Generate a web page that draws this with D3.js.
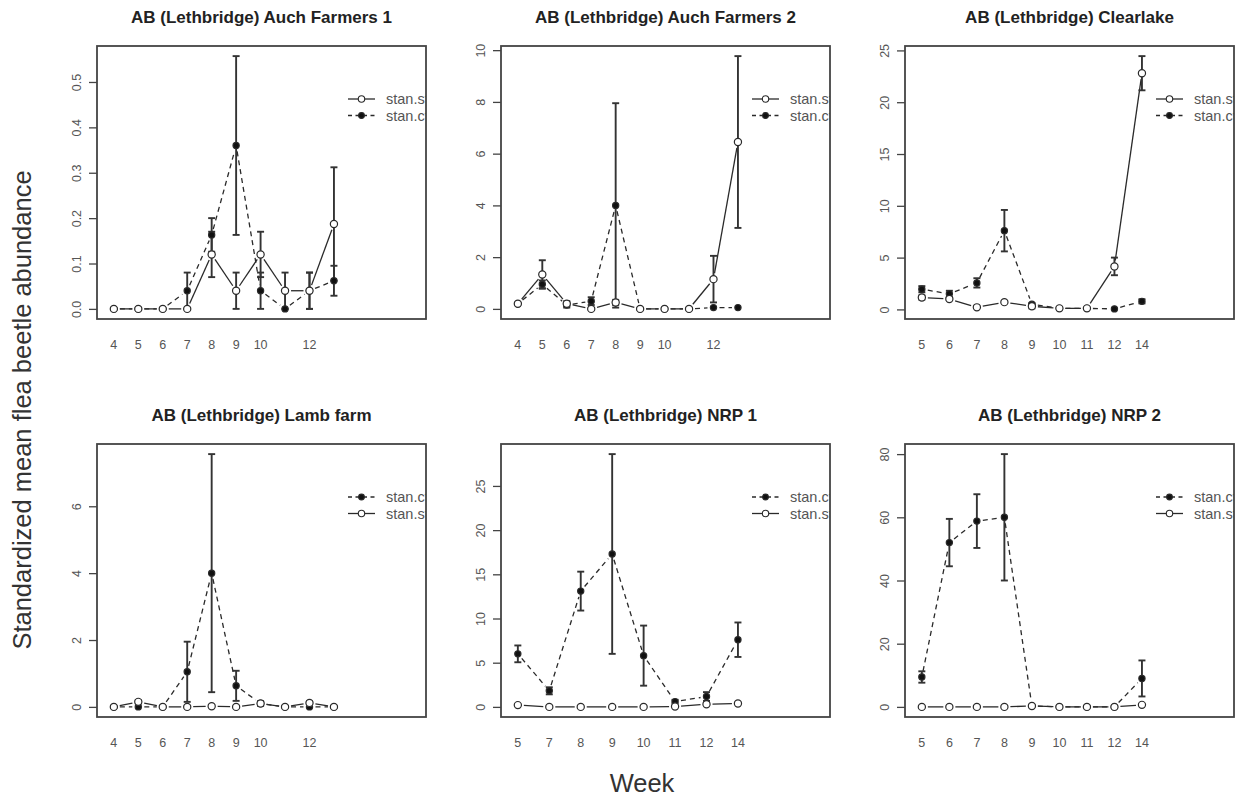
<!DOCTYPE html>
<html><head><meta charset="utf-8">
<script src="https://cdn.jsdelivr.net/npm/d3@7"></script>
<style>body{margin:0;background:#fff}svg{display:block;font-family:"Liberation Sans",Arial,Helvetica,sans-serif}</style>
</head><body><svg id="c" width="1239" height="799"></svg>
<script>
// ---------- data ----------
const titles = ["AB (Lethbridge) Auch Farmers 1","AB (Lethbridge) Auch Farmers 2","AB (Lethbridge) Clearlake",
                "AB (Lethbridge) Lamb farm","AB (Lethbridge) NRP 1","AB (Lethbridge) NRP 2"];
const seriesNames = {st:"stan.st", ct:"stan.ct"};

const p1Weeks = [4,5,6,7,8,9,10,11,12,13];
const p1Labels = ["4","5","6","7","8","9","10","","12",""];
const p1St   = [0,0,0,0,0.12,0.04,0.12,0.04,0.04,0.187];
const p1StSE = [0,0,0,0,0.05,0.04,0.05,0.04,0.04,0.125];
const p1Ct   = [0,0,0,0.04,0.163,0.36,0.04,0,0.04,0.062];
const p1CtSE = [0,0,0,0.04,0.037,0.197,0.04,0,0.04,0.033];
const p1YTicks = [0,0.1,0.2,0.3,0.4,0.5];

const p2Weeks = [4,5,6,7,8,9,10,11,12,13];
const p2Labels = ["4","5","6","7","8","9","10","","12",""];
const p2St   = [0.2,1.33,0.2,0,0.25,0,0,0,1.15,6.45];
const p2StSE = [0,0.55,0.1,0,0.1,0,0,0,0.9,3.32];
const p2Ct   = [0.2,0.95,0.15,0.3,4.0,0,0,0,0.05,0.05];
const p2CtSE = [0,0.15,0.1,0.15,3.95,0,0,0,0,0];
const p2YTicks = [0,2,4,6,8,10];

const p3Weeks = [5,6,7,8,9,10,11,12,14];
const p3Labels = ["5","6","7","8","9","10","11","12","14"];
const p3St   = [1.15,1.0,0.2,0.7,0.3,0.1,0.1,4.15,22.8];
const p3StSE = [0.2,0.1,0,0,0.2,0,0,0.85,1.65];
const p3Ct   = [1.95,1.5,2.56,7.6,0.5,0.1,0.1,0.05,0.78];
const p3CtSE = [0.3,0.3,0.45,2.0,0.1,0,0,0,0.2];
const p3YTicks = [0,5,10,15,20,25];

const p4Weeks = [4,5,6,7,8,9,10,11,12,13];
const p4Labels = ["4","5","6","7","8","9","10","","12",""];
const p4St   = [0,0.15,0,0,0.02,0,0.1,0,0.12,0];
const p4StSE = [0,0.05,0,0,0,0,0.05,0,0.05,0];
const p4Ct   = [0,0,0,1.05,4.0,0.63,0.1,0,0,0];
const p4CtSE = [0,0,0,0.9,3.56,0.45,0.07,0,0,0];
const p4YTicks = [0,2,4,6];

const p5Weeks = [5,7,8,9,10,11,12,14];
const p5Labels = ["5","7","8","9","10","11","12","14"];
const p5St   = [0.2,0,0,0,0,0.05,0.3,0.38];
const p5StSE = [0,0,0,0,0,0,0,0];
const p5Ct   = [6.0,1.82,13.1,17.3,5.8,0.6,1.17,7.6];
const p5CtSE = [0.95,0.4,2.2,11.3,3.4,0.2,0.5,1.95];
const p5YTicks = [0,5,10,15,20,25];

const p6Weeks = [5,6,7,8,9,10,11,12,14];
const p6Labels = ["5","6","7","8","9","10","11","12","14"];
const p6St   = [0,0,0,0,0.3,0,0,0,0.64];
const p6StSE = [0,0,0,0,0,0,0,0,0];
const p6Ct   = [9.46,52.0,58.8,60.0,0.3,0,0,0,9.0];
const p6CtSE = [1.8,7.5,8.5,20.0,0,0,0,0,5.7];
const p6YTicks = [0,20,40,60,80];

const yTitle = "Standardized mean flea beetle abundance";
const xTitle = "Week";

// ---------- assemble ----------
const panels = [
  {weeks:p1Weeks, labels:p1Labels, st:p1St, stSE:p1StSE, ct:p1Ct, ctSE:p1CtSE, yTicks:p1YTicks, fmt:d3.format(".1f"), legend:["st","ct"]},
  {weeks:p2Weeks, labels:p2Labels, st:p2St, stSE:p2StSE, ct:p2Ct, ctSE:p2CtSE, yTicks:p2YTicks, fmt:d3.format("d"), legend:["st","ct"]},
  {weeks:p3Weeks, labels:p3Labels, st:p3St, stSE:p3StSE, ct:p3Ct, ctSE:p3CtSE, yTicks:p3YTicks, fmt:d3.format("d"), legend:["st","ct"]},
  {weeks:p4Weeks, labels:p4Labels, st:p4St, stSE:p4StSE, ct:p4Ct, ctSE:p4CtSE, yTicks:p4YTicks, fmt:d3.format("d"), legend:["ct","st"]},
  {weeks:p5Weeks, labels:p5Labels, st:p5St, stSE:p5StSE, ct:p5Ct, ctSE:p5CtSE, yTicks:p5YTicks, fmt:d3.format("d"), legend:["ct","st"]},
  {weeks:p6Weeks, labels:p6Labels, st:p6St, stSE:p6StSE, ct:p6Ct, ctSE:p6CtSE, yTicks:p6YTicks, fmt:d3.format("d"), legend:["ct","st"]}
];

const svg = d3.select("#c");
const boxW = 329, boxH = 273;
const colX = [97, 501, 905], rowY = [46, 444];
const ink = "#2a2a2a";
const style = {
  st:{dash:null, fill:"#fff", r:3.6},
  ct:{dash:"5,4", fill:"#111", r:3.1}
};
const GAP = 6;

panels.forEach((p, i) => {
  const bx = colX[i % 3], by = rowY[Math.floor(i / 3)];
  const n = p.weeks.length;
  const x = d3.scaleLinear().domain([0, n - 1]).range([bx + 0.0512 * boxW, bx + 0.7202 * boxW]);
  const lows = p.st.map((v, k) => v - p.stSE[k]).concat(p.ct.map((v, k) => v - p.ctSE[k]));
  const highs = p.st.map((v, k) => v + p.stSE[k]).concat(p.ct.map((v, k) => v + p.ctSE[k]));
  const ymin = d3.min(lows), ymax = d3.max(highs), rg = ymax - ymin;
  const y = d3.scaleLinear().domain([ymin - 0.04 * rg, ymax + 0.04 * rg]).range([by + boxH, by]);

  const g = svg.append("g");
  const clipId = "clip" + i;
  g.append("clipPath").attr("id", clipId).append("rect")
    .attr("x", bx).attr("y", by).attr("width", boxW).attr("height", boxH);

  // title
  g.append("text").attr("x", bx + boxW / 2).attr("y", by - 23.5)
    .attr("text-anchor", "middle").attr("font-weight", "bold").attr("font-size", 17)
    .attr("fill", "#222").text(titles[i]);

  // y axis
  const ax = g.append("g").attr("transform", `translate(${bx},0)`)
    .call(d3.axisLeft(y).tickValues(p.yTicks).tickSize(8).tickFormat(p.fmt));
  ax.select(".domain").remove();
  ax.selectAll(".tick line").attr("stroke", "#444").attr("stroke-width", 1.3);
  ax.selectAll(".tick text").attr("transform", "rotate(-90)")
    .attr("x", 0).attr("y", -16.5).attr("dy", 0).attr("text-anchor", "middle")
    .attr("font-size", 12.5).attr("fill", "#555").attr("font-family", "Liberation Sans, Arial, sans-serif");

  // x labels (no ticks)
  g.append("g").selectAll("text").data(p.labels).join("text")
    .attr("x", (d, k) => x(k)).attr("y", by + boxH + 29.5)
    .attr("text-anchor", "middle").attr("font-size", 12.5).attr("fill", "#555").text(d => d);

  const plot = g.append("g");

  // lines with gaps (type = "b")
  ["st", "ct"].forEach(s => {
    const pts = p[s].map((v, k) => [x(k), y(v)]);
    const segs = [];
    for (let k = 0; k < pts.length - 1; k++) {
      const [x1, y1] = pts[k], [x2, y2] = pts[k + 1];
      const dx = x2 - x1, dy = y2 - y1, d = Math.hypot(dx, dy);
      if (d > 2 * GAP + 1) {
        const ux = dx / d, uy = dy / d;
        segs.push([x1 + ux * GAP, y1 + uy * GAP, x2 - ux * GAP, y2 - uy * GAP]);
      }
    }
    plot.append("g").selectAll("line").data(segs).join("line")
      .attr("x1", d => d[0]).attr("y1", d => d[1]).attr("x2", d => d[2]).attr("y2", d => d[3])
      .attr("stroke", ink).attr("stroke-width", 1.3)
      .attr("stroke-dasharray", style[s].dash);
  });

  // error bars
  ["st", "ct"].forEach(s => {
    const bars = p[s].map((v, k) => ({k, lo: v - p[s + "SE"][k], hi: v + p[s + "SE"][k], se: p[s + "SE"][k]}))
      .filter(b => b.se > 0);
    const eb = plot.append("g").attr("stroke", "#333").attr("stroke-width", 1.9);
    eb.selectAll("line.v").data(bars).join("line").attr("class", "v")
      .attr("x1", b => x(b.k)).attr("x2", b => x(b.k)).attr("y1", b => y(b.lo)).attr("y2", b => y(b.hi));
    eb.selectAll("line.lo").data(bars).join("line").attr("class", "lo")
      .attr("x1", b => x(b.k) - 3.5).attr("x2", b => x(b.k) + 3.5).attr("y1", b => y(b.lo)).attr("y2", b => y(b.lo));
    eb.selectAll("line.hi").data(bars).join("line").attr("class", "hi")
      .attr("x1", b => x(b.k) - 3.5).attr("x2", b => x(b.k) + 3.5).attr("y1", b => y(b.hi)).attr("y2", b => y(b.hi));
  });

  // points: ct first, st on top
  ["ct", "st"].forEach(s => {
    plot.append("g").selectAll("circle").data(p[s]).join("circle")
      .attr("cx", (d, k) => x(k)).attr("cy", d => y(d)).attr("r", style[s].r)
      .attr("fill", style[s].fill).attr("stroke", ink).attr("stroke-width", 1.2);
  });

  // legend (clipped to box)
  const lg = g.append("g").attr("clip-path", `url(#${clipId})`);
  p.legend.forEach((s, j) => {
    const ly = by + 53 + j * 16.5;
    const lx0 = bx + boxW - 78, lx1 = bx + boxW - 51, lm = (lx0 + lx1) / 2;
    lg.append("line").attr("x1", lx0).attr("x2", lx1).attr("y1", ly).attr("y2", ly)
      .attr("stroke", ink).attr("stroke-width", 1.3).attr("stroke-dasharray", style[s].dash ? "4,3.5" : null);
    lg.append("circle").attr("cx", lm).attr("cy", ly).attr("r", s === "st" ? 3.2 : 2.9)
      .attr("fill", style[s].fill).attr("stroke", ink).attr("stroke-width", 1.1);
    lg.append("text").attr("x", bx + boxW - 40).attr("y", ly).attr("dy", "0.35em")
      .attr("font-size", 14.5).attr("fill", "#555").text(seriesNames[s]);
  });

  // box
  g.append("rect").attr("x", bx).attr("y", by).attr("width", boxW).attr("height", boxH)
    .attr("fill", "none").attr("stroke", "#444").attr("stroke-width", 1.8);
});

// axis titles
svg.append("text").attr("transform", "translate(31,410) rotate(-90)")
  .attr("text-anchor", "middle").attr("font-size", 25.5).attr("fill", "#333").text(yTitle);
svg.append("text").attr("x", 642).attr("y", 792)
  .attr("text-anchor", "middle").attr("font-size", 25.5).attr("fill", "#333").text(xTitle);
</script>
</body></html>
